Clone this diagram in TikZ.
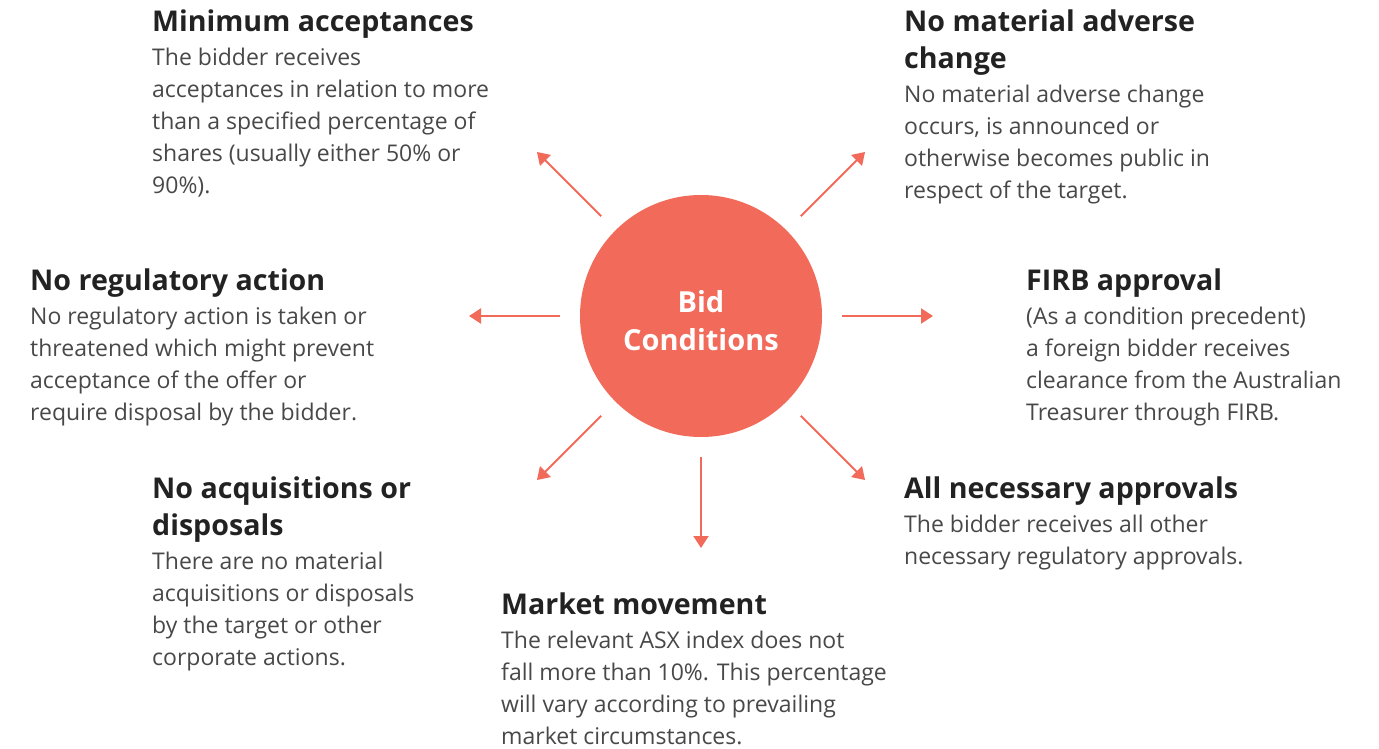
\documentclass[tikz,border=0pt]{standalone}
\usepackage{fontspec}
\setmainfont{Open Sans}
\usetikzlibrary{arrows.meta, positioning}
\definecolor{my_coral}{RGB}{242, 106, 90}
\definecolor{my_dark}{RGB}{34, 34, 34}
\definecolor{my_grey}{RGB}{72, 72, 72}
\tikzset {
  bigcircle/.style = {circle, fill=my_coral, minimum size=242pt, inner sep=0pt, text=white, align=center, text height=70pt, text depth=0pt, font=\fontsize{29}{38}\selectfont\bfseries},
  title/.style = {anchor=north west, inner sep=0pt, align=left, text=my_dark, text depth=7pt, font=\fontsize{28.6}{37}\selectfont\bfseries},
  body/.style = {inner sep=0pt, align=left, text=my_grey, font=\fontsize{23}{32}\selectfont},
  line/.style = {-{Triangle[width=15pt, length=12pt]}, line width=2pt, color=my_coral, shorten <=20pt}
}

\begin{document}
\begin{tikzpicture}[x=1pt, y=1pt]
    \useasboundingbox (0,0) rectangle (1379,748);

    \node[bigcircle] (bid) at (701,432) {Bid\\Conditions};

    \node[title] (minacc) at (152,738) {Minimum acceptances};
    \node[body, below right=9pt and 0pt of minacc.south west] (minaccTxt) {The bidder receives\\acceptances in relation to more\\than a specified percentage of\\shares (usually either 50\% or\\90\%).};

    \node[title] (mac) at (904,738) {No material adverse\\change};
    \node[body, below right=9pt and 0pt of mac.south west] (macTxt) {No material adverse change\\occurs, is announced or\\otherwise becomes public in\\respect of the target.};

    \node[title] (reg) at (30,479) {No regulatory action};
    \node[body, below right=9pt and 0pt of reg.south west] (regTxt) {No regulatory action is taken or\\threatened which might prevent\\acceptance of the offer or\\require disposal by the bidder.};

    \node[title] (firb) at (1026,479) {FIRB approval};
    \node[body, below right=9pt and 0pt of firb.south west] (firbTxt) {(As a condition precedent)\\a foreign bidder receives\\clearance from the Australian\\Treasurer through FIRB.};

    \node[title] (acq) at (152,271) {No acquisitions or\\disposals};
    \node[body, below right=9pt and 0pt of acq.south west] (acqTxt) {There are no material\\acquisitions or disposals\\by the target or other\\corporate actions.};

    \node[title] (appr) at (904,271) {All necessary approvals};
    \node[body, below right=9pt and 0pt of appr.south west] (apprTxt) {The bidder receives all other\\necessary regulatory approvals.};

    \node[title] (mkt) at (501,155) {Market movement};
    \node[body, below right=9pt and 0pt of mkt.south west] (mktTxt) {The relevant ASX index does not\\fall more than 10\%. This percentage\\will vary according to prevailing\\market circumstances.};

    % arrow ends
    \path (bid) ++(135:232) coordinate (tipNW);
    \path (bid) ++(45:232) coordinate (tipNE);
    \path (bid) ++(180:232) coordinate (tipW);
    \path (bid) ++(0:232) coordinate (tipE);
    \path (bid) ++(225:232) coordinate (tipSW);
    \path (bid) ++(-45:232) coordinate (tipSE);
    \path (bid) ++(-90:232) coordinate (tipS);

    \draw[line] (bid) -- (tipNW);
    \draw[line] (bid) -- (tipNE);
    \draw[line] (bid) -- (tipW);
    \draw[line] (bid) -- (tipE);
    \draw[line] (bid) -- (tipSW);
    \draw[line] (bid) -- (tipSE);
    \draw[line] (bid) -- (tipS);

\end{tikzpicture}
\end{document}
